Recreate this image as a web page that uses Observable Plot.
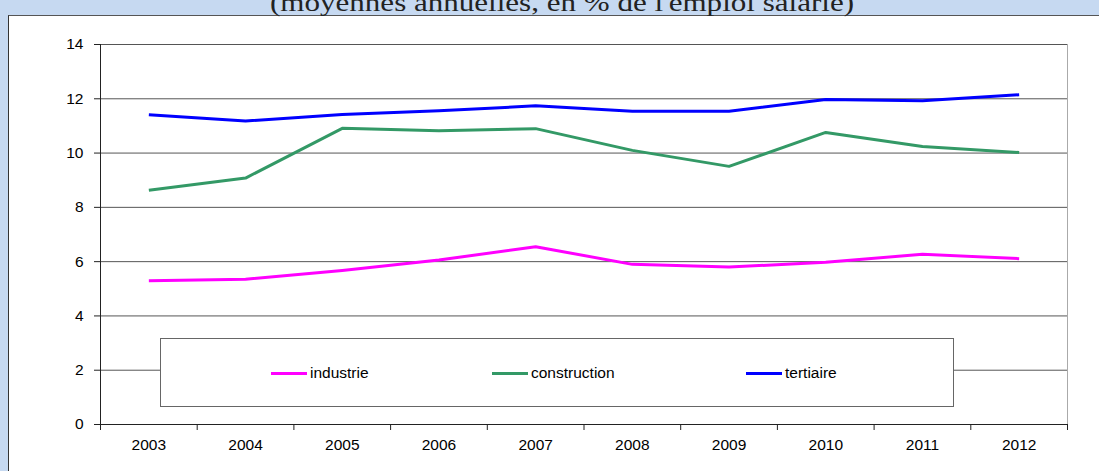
<!DOCTYPE html>
<html>
<head>
<meta charset="utf-8">
<script src="https://cdn.jsdelivr.net/npm/d3@7"></script>
<script src="https://cdn.jsdelivr.net/npm/@observablehq/plot@0.6"></script>
<style>
  html, body { margin: 0; padding: 0; width: 1099px; height: 471px; overflow: hidden; background: #c6d9f1; }
  #panel { position: absolute; left: 8px; top: 15px; width: 1200px; height: 500px; background: #fff;
           border-left: 1px solid #333; border-top: 1px solid #555; }
  #title { position: absolute; left: 0; top: 0; }
  #chart { position: absolute; left: 0; top: 0; }
  #legend { position: absolute; left: 160px; top: 338px; width: 792px; height: 67px; background: #fff;
            border: 1px solid #666; font-family: "Liberation Sans", Arial, sans-serif; font-size: 15.5px; color: #000; }
  .item { position: absolute; top: 24px; height: 20px; display: flex; align-items: center; }
  .sw { width: 36px; height: 3px; margin-right: 3px; }
</style>
</head>
<body>
<div id="panel"></div>
<div id="chart"></div>
<svg id="title" width="1099" height="20">
  <text x="562" y="11" text-anchor="middle" font-family="Liberation Serif, serif" font-size="25" fill="#222"
        textLength="584" lengthAdjust="spacingAndGlyphs">(moyennes annuelles, en % de l'emploi salarié)</text>
</svg>
<div id="legend"></div>
<script>
const years = [2003, 2004, 2005, 2006, 2007, 2008, 2009, 2010, 2011, 2012];
const industrie    = [5.30, 5.35, 5.67, 6.06, 6.55, 5.90, 5.80, 5.98, 6.27, 6.11];
const construction = [8.63, 9.08, 10.91, 10.82, 10.90, 10.10, 9.51, 10.76, 10.24, 10.02];
const tertiaire    = [11.41, 11.18, 11.42, 11.56, 11.74, 11.54, 11.54, 11.97, 11.93, 12.15];
const yTicks = [0, 2, 4, 6, 8, 10, 12, 14];
const seriesNames = ["industrie", "construction", "tertiaire"];
const seriesColors = ["#ff00ff", "#339966", "#0000ff"];

const seriesValues = [industrie, construction, tertiaire];
const data = seriesNames.flatMap((s, i) => years.map((year, j) => ({series: s, year, value: seriesValues[i][j]})));
const boundaries = [years[0] - 0.5, ...years.map(y => y + 0.5)];

const chart = Plot.plot({
  width: 1099,
  height: 471,
  marginLeft: 100,
  marginRight: 32,
  marginTop: 44,
  marginBottom: 47,
  style: {background: "transparent", fontFamily: "'Liberation Sans', Arial, sans-serif", fontSize: "15.5px", color: "#000", overflow: "visible"},
  x: {type: "linear", domain: [boundaries[0], boundaries[boundaries.length - 1]]},
  y: {domain: [0, 14]},
  color: {domain: seriesNames, range: seriesColors},
  marks: [
    Plot.ruleY(yTicks.filter(d => d > 0), {stroke: "#555"}),
    Plot.ruleX([boundaries[boundaries.length - 1]], {stroke: "#aaa"}),
    Plot.line(data, {x: "year", y: "value", z: "series", stroke: "series", strokeWidth: 3, strokeLinejoin: "round", strokeLinecap: "butt"}),
    Plot.ruleY([0], {stroke: "#222"}),
    Plot.ruleX([boundaries[0]], {stroke: "#222"}),
    Plot.axisY({ticks: yTicks, tickSize: 6, tickPadding: 11, label: null, stroke: "#222"}),
    Plot.axisX({ticks: boundaries, tickSize: 6, tickFormat: () => "", label: null, stroke: "#222"}),
    Plot.axisX({ticks: years, tickSize: 0, tickPadding: 14, tickFormat: d => String(d), label: null})
  ]
});
document.getElementById("chart").appendChild(chart);

const legend = document.getElementById("legend");
const itemLeft = [110, 331, 585];
seriesNames.forEach((s, i) => {
  const it = document.createElement("div");
  it.className = "item";
  it.style.left = itemLeft[i] + "px";
  const sw = document.createElement("div");
  sw.className = "sw";
  sw.style.background = seriesColors[i];
  const tx = document.createElement("span");
  tx.textContent = s;
  it.appendChild(sw);
  it.appendChild(tx);
  legend.appendChild(it);
});
</script>
</body>
</html>
